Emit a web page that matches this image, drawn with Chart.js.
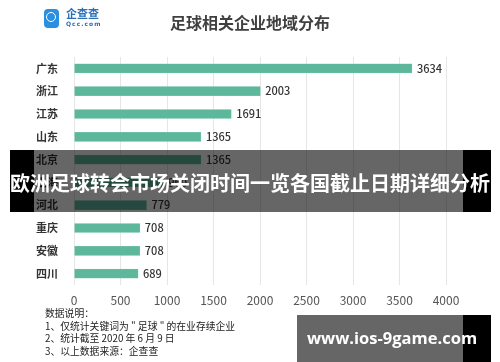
<!DOCTYPE html>
<html lang="zh">
<head>
  <meta charset="UTF-8">
  <title>足球相关企业地域分布</title>
  <script src="https://cdn.jsdelivr.net/npm/chart.js"></script>
  <style>
    html, body { margin: 0; padding: 0; background: #fff; }
    body { width: 500px; height: 362px; position: relative; overflow: hidden;
           font-family: "Noto Sans CJK SC", "Noto Sans", sans-serif; }
    #wrap { position: absolute; left: 0; top: 0; width: 500px; height: 362px; }
    .title { position: absolute; left: 0; width: 500px; top: 10px; text-align: center;
             font-size: 16px; font-weight: bold; color: #404040; line-height: 24px; }
    .logo { position: absolute; left: 44px; top: 9px; width: 15px; height: 19px;
            background: #2a8fe0; border-radius: 4px; }
    .logo::before { content: ""; position: absolute; left: 2px; top: 3px; width: 8px; height: 8px;
                    border: 1.5px solid #fff; border-radius: 50%; }
    .logo-txt { position: absolute; left: 66px; top: 7px; font-size: 11px; color: #2b6fb8;
                line-height: 13px; font-weight: bold; }
    .logo-sub { position: absolute; left: 66px; top: 20px; font-size: 6px; color: #2b6fb8;
                letter-spacing: 1px; font-family: "DejaVu Sans", sans-serif; font-weight: bold; }
    .notes { position: absolute; left: 45px; top: 307px; font-size: 9.8px; color: #222;
             line-height: 12.5px; white-space: nowrap; }
    .band { position: absolute; left: 34px; top: 150px; width: 429px; height: 62px;
            background: rgba(0,0,0,0.6); }
    .bside { position: absolute; top: 150px; height: 62px; background: #000; }
    .headline { position: absolute; left: 0; width: 500px; top: 168px; text-align: center;
                color: #fff; font-weight: bold; font-size: 20px; line-height: 30px;
                white-space: nowrap; }
    .wm { position: absolute; left: 297px; top: 315px; width: 166px; height: 47px;
          background: rgba(0,0,0,0.6); }
    .wmside { position: absolute; left: 463px; top: 315px; width: 28px; height: 47px; background: #000; }
    .wmtxt { position: absolute; left: 307px; top: 326px; color: #fff; font-weight: bold;
             font-size: 16.5px; line-height: 24px; white-space: nowrap;
             font-family: "Open Sans", "Noto Sans", sans-serif; }
  </style>
</head>
<body>
  <div id="wrap"><canvas id="chart" width="500" height="362"></canvas></div>
  <div class="logo"></div>
  <div class="logo-txt">企查查</div>
  <div class="logo-sub">Qcc.com</div>
  <div class="title">足球相关企业地域分布</div>
  <div class="notes">数据说明：<br>1、仅统计关键词为 " 足球 " 的在业存续企业<br>2、统计截至 2020 年 6 月 9 日<br>3、以上数据来源：企查查</div>
  <div class="band"></div>
  <div class="bside" style="left:10px;width:24px"></div>
  <div class="bside" style="left:463px;width:28px"></div>
  <div class="headline">欧洲足球转会市场关闭时间一览各国截止日期详细分析</div>
  <div class="wm"></div>
  <div class="wmside"></div>
  <div class="wmtxt">www.ios-9game.com</div>

  <script>
    const provinces = ['广东', '浙江', '江苏', '山东', '北京', '上海', '河北', '重庆', '安徽', '四川'];
    const companyCounts = [3634, 2003, 1691, 1365, 1365, 960, 779, 708, 708, 689];
    const xTicks = [0, 500, 1000, 1500, 2000, 2500, 3000, 3500, 4000];

    // write the number just past the end of each bar
    const barLabels = {
      id: 'barLabels',
      afterDatasetsDraw(chart) {
        const ctx = chart.ctx;
        const meta = chart.getDatasetMeta(0);
        ctx.save();
        ctx.font = '500 11px "Noto Sans CJK SC", sans-serif';
        ctx.fillStyle = '#333';
        ctx.textBaseline = 'middle';
        meta.data.forEach((bar, i) => {
          ctx.fillText(companyCounts[i], bar.x + 5, bar.y);
        });
        ctx.restore();
      }
    };

    new Chart(document.getElementById('chart'), {
      type: 'bar',
      data: {
        labels: provinces,
        datasets: [{
          data: companyCounts,
          backgroundColor: '#5db79b',
          borderColor: '#7cc6ae',
          borderWidth: 0.5,
          barThickness: 9
        }]
      },
      options: {
        indexAxis: 'y',
        responsive: false,
        animation: false,
        layout: { padding: { left: 0, right: 54, top: 57, bottom: 52 } },
        scales: {
          x: {
            min: 0,
            max: 4000,
            afterBuildTicks: s => { s.ticks = xTicks.map(v => ({ value: v })); },
            afterFit: s => { s.height = 25; },
            grid: { color: '#e6e6e6', drawTicks: false },
            border: { display: false },
            ticks: {
              color: '#555', padding: 8,
              font: { size: 12, family: '"Noto Sans CJK SC", sans-serif' },
              callback: v => String(v)
            }
          },
          y: {
            afterFit: s => { s.width = 74; },
            grid: { display: false },
            border: { display: false },
            ticks: { color: '#333', padding: 8, font: { size: 11, weight: 'bold', family: '"Noto Sans CJK SC", sans-serif' } }
          }
        },
        plugins: {
          legend: { display: false },
          tooltip: { enabled: false }
        }
      },
      plugins: [barLabels]
    });
  </script>
</body>
</html>
